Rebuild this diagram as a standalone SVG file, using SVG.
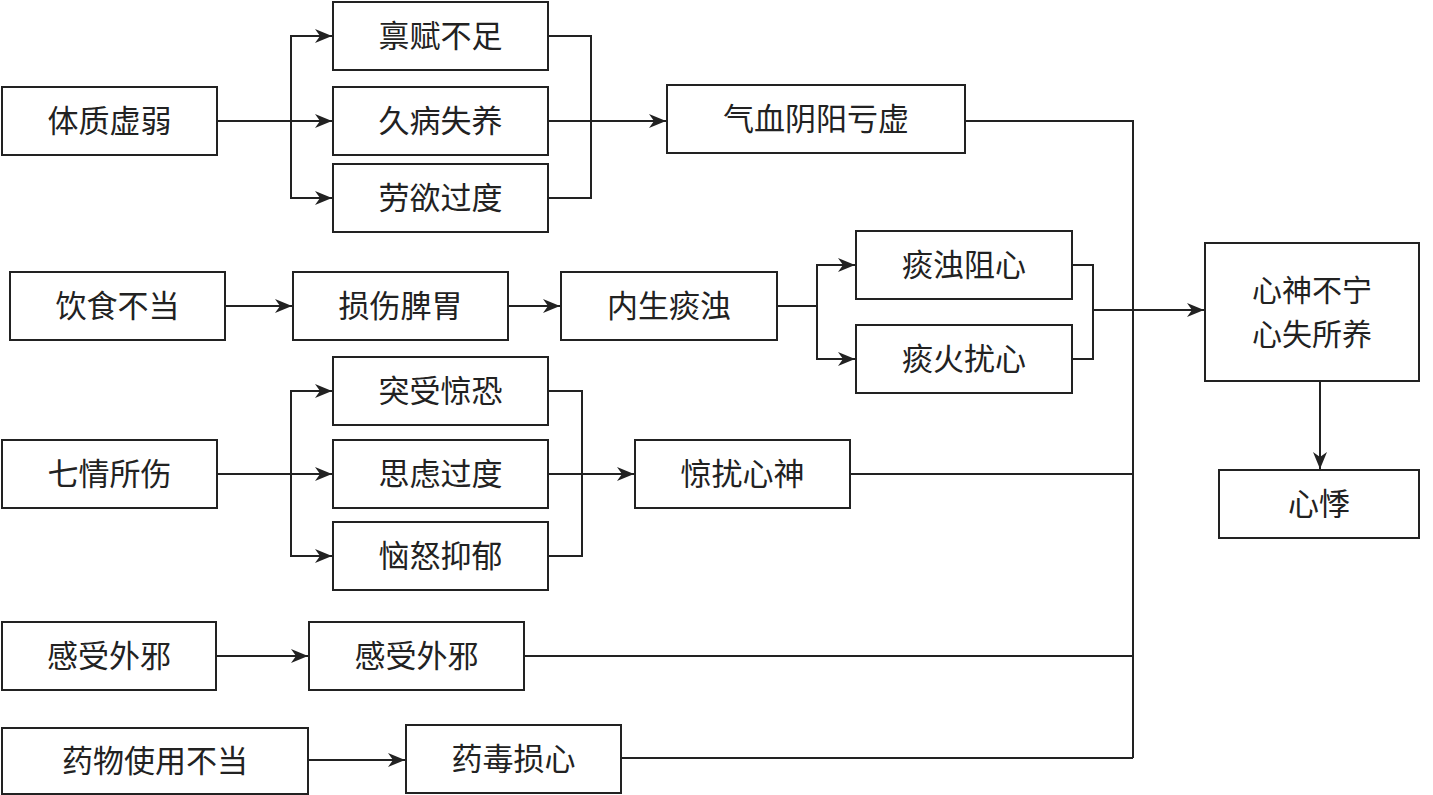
<svg xmlns="http://www.w3.org/2000/svg" width="1433" height="795" viewBox="0 0 1433 795">
<style>
.box{fill:#fff;stroke:#222;stroke-width:2}
.t{font-family:"Noto Sans CJK SC","Noto Sans",sans-serif;font-size:31px;fill:#222;text-anchor:middle;dominant-baseline:central}
.c{fill:none;stroke:#222;stroke-width:2}
</style>
<defs>
<marker id="a" markerWidth="18" markerHeight="14" refX="17" refY="7" orient="auto" markerUnits="userSpaceOnUse">
<path d="M0,0 L17,7 L0,14 L5,7 Z" fill="#222"/>
</marker>
</defs>
<rect width="1433" height="795" fill="#fff"/>
<g id="connectors">
<path class="c" d="M217,121 H332" marker-end="url(#a)"/>
<path class="c" d="M291,121 V36 H332" marker-end="url(#a)"/>
<path class="c" d="M291,121 V198 H332" marker-end="url(#a)"/>
<path class="c" d="M548,36 H591 V198 H548"/>
<path class="c" d="M548,121 H666" marker-end="url(#a)"/>
<path class="c" d="M965,121 H1133 V758"/>
<path class="c" d="M225,306 H292" marker-end="url(#a)"/>
<path class="c" d="M508,306 H560" marker-end="url(#a)"/>
<path class="c" d="M777,306 H817"/>
<path class="c" d="M817,306 V265 H855" marker-end="url(#a)"/>
<path class="c" d="M817,306 V359 H855" marker-end="url(#a)"/>
<path class="c" d="M1072,265 H1093 V359 H1072"/>
<path class="c" d="M1093,310 H1204" marker-end="url(#a)"/>
<path class="c" d="M1320,381 V469" marker-end="url(#a)"/>
<path class="c" d="M217,474 H332" marker-end="url(#a)"/>
<path class="c" d="M291,474 V391 H332" marker-end="url(#a)"/>
<path class="c" d="M291,474 V556 H332" marker-end="url(#a)"/>
<path class="c" d="M548,391 H582 V556 H548"/>
<path class="c" d="M548,474 H634" marker-end="url(#a)"/>
<path class="c" d="M850,474 H1133"/>
<path class="c" d="M216,656 H308" marker-end="url(#a)"/>
<path class="c" d="M524,656 H1133"/>
<path class="c" d="M308,760 H405" marker-end="url(#a)"/>
<path class="c" d="M621,758 H1133"/>
</g>
<g id="n1"><rect class="box" x="2" y="87" width="215" height="68"/><text class="t" x="109.5" y="118">体质虚弱</text></g>
<g id="n2"><rect class="box" x="333" y="2" width="215" height="68"/><text class="t" x="440.5" y="33">禀赋不足</text></g>
<g id="n3"><rect class="box" x="333" y="87" width="215" height="68"/><text class="t" x="440.5" y="118">久病失养</text></g>
<g id="n4"><rect class="box" x="333" y="164" width="215" height="68"/><text class="t" x="440.5" y="195">劳欲过度</text></g>
<g id="n5"><rect class="box" x="667" y="85" width="298" height="68"/><text class="t" x="816" y="116">气血阴阳亏虚</text></g>
<g id="n6"><rect class="box" x="10" y="272" width="215" height="68"/><text class="t" x="117.5" y="303">饮食不当</text></g>
<g id="n7"><rect class="box" x="293" y="272" width="215" height="68"/><text class="t" x="400.5" y="303">损伤脾胃</text></g>
<g id="n8"><rect class="box" x="561" y="272" width="216" height="68"/><text class="t" x="669" y="303">内生痰浊</text></g>
<g id="n9"><rect class="box" x="856" y="231" width="216" height="68"/><text class="t" x="964" y="262">痰浊阻心</text></g>
<g id="n10"><rect class="box" x="856" y="325" width="216" height="68"/><text class="t" x="964" y="356">痰火扰心</text></g>
<g id="n11"><rect class="box" x="1205" y="243" width="214" height="138"/><text class="t" x="1312" y="288" style="font-size:30px">心神不宁<tspan x="1312" dy="44">心失所养</tspan></text></g>
<g id="n12"><rect class="box" x="1219" y="470" width="200" height="68"/><text class="t" x="1319" y="501">心悸</text></g>
<g id="n13"><rect class="box" x="2" y="440" width="215" height="68"/><text class="t" x="109.5" y="471">七情所伤</text></g>
<g id="n14"><rect class="box" x="333" y="357" width="215" height="68"/><text class="t" x="440.5" y="388">突受惊恐</text></g>
<g id="n15"><rect class="box" x="333" y="440" width="215" height="68"/><text class="t" x="440.5" y="471">思虑过度</text></g>
<g id="n16"><rect class="box" x="333" y="522" width="215" height="68"/><text class="t" x="440.5" y="553">恼怒抑郁</text></g>
<g id="n17"><rect class="box" x="635" y="440" width="215" height="68"/><text class="t" x="742.5" y="471">惊扰心神</text></g>
<g id="n18"><rect class="box" x="2" y="622" width="214" height="68"/><text class="t" x="109" y="653">感受外邪</text></g>
<g id="n19"><rect class="box" x="309" y="622" width="215" height="68"/><text class="t" x="416.5" y="653">感受外邪</text></g>
<g id="n20"><rect class="box" x="2" y="728" width="306" height="66"/><text class="t" x="155" y="758">药物使用不当</text></g>
<g id="n21"><rect class="box" x="406" y="725" width="215" height="68"/><text class="t" x="513.5" y="756">药毒损心</text></g>
</svg>
